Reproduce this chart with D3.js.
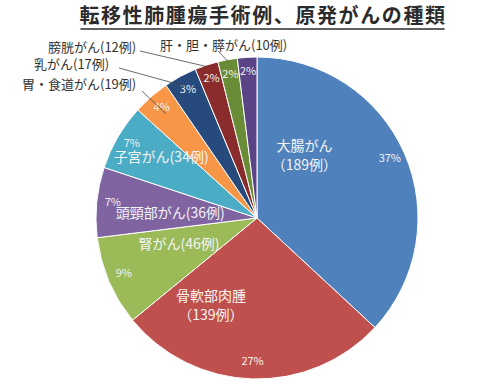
<!DOCTYPE html>
<html>
<head>
<meta charset="utf-8">
<script src="https://cdn.jsdelivr.net/npm/d3@7"></script>
<style>
  body { margin: 0; background: #fff; }
  text { font-family: "Noto Sans CJK JP", "Noto Sans", sans-serif; }
</style>
</head>
<body>
<div id="chart"></div>
<script>
// data
var categories = ["大腸がん", "骨軟部肉腫", "腎がん", "頭頸部がん", "子宮がん",
    "胃・食道がん", "乳がん", "膀胱がん", "肝・胆・膵がん", "その他"];
var cases = [189, 139, 46, 36, 34, 19, 17, 12, 10, 10];
var colors = ["#4f81bd", "#c0504d", "#9bbb59", "#8064a2", "#4bacc6",
    "#f79646", "#264a7c", "#8a2c2b", "#6a8c37", "#5b4486"];
var title = "転移性肺腫瘍手術例、原発がんの種類";

// set the dimensions
var width = 480, height = 389;
var cx = 257, cy = 218, radius = 161;

var svg = d3.select("#chart").append("svg")
    .attr("width", width)
    .attr("height", height);

// title with underline
var t = svg.append("text")
    .attr("x", 263)
    .attr("y", 23)
    .attr("text-anchor", "middle")
    .style("font-size", "20px")
    .style("font-weight", "700")
    .style("letter-spacing", "1.6px")
    .style("fill", "#2b2b2b")
    .text(title);
var bb = t.node().getBBox();
svg.append("line")
    .attr("x1", bb.x + 1).attr("x2", bb.x + bb.width - 2)
    .attr("y1", 29).attr("y2", 29)
    .style("stroke", "#2b2b2b")
    .style("stroke-width", 1.5);

var total = d3.sum(cases);
var pie = d3.pie().sort(null).value(function(d) { return d; });
var arcs = pie(cases);
var arc = d3.arc().innerRadius(0).outerRadius(radius);

var g = svg.append("g")
    .attr("transform", "translate(" + cx + "," + cy + ")");

g.selectAll("path")
    .data(arcs)
    .enter().append("path")
    .attr("d", arc)
    .attr("fill", function(d, i) { return colors[i]; })
    .style("stroke", "#fff")
    .style("stroke-width", 1);

// polar helper: angle in radians clockwise from 12 o'clock
function polar(a, r) {
    return [Math.sin(a) * r, -Math.cos(a) * r];
}
function mid(d) { return (d.startAngle + d.endAngle) / 2; }

// percent labels
g.selectAll(".pct")
    .data(arcs)
    .enter().append("text")
    .attr("class", "pct")
    .attr("transform", function(d) {
        var p = polar(mid(d), radius * 0.9);
        return "translate(" + p[0] + "," + (p[1] + 2) + ")";
    })
    .attr("text-anchor", "middle")
    .style("font-size", "11px")
    .style("fill", "#f2f2f2")
    .text(function(d) { return Math.round(d.value / total * 100) + "%"; });

// category labels inside the slices: [angle deg, radius fraction, two lines?]
var inside = [
    [37, 0.49, true],
    [208, 0.61, true],
    [252, 0.51, false],
    [274, 0.54, false],
    [303, 0.71, false]
];
inside.forEach(function(s, i) {
    var p = polar(s[0] * Math.PI / 180, radius * s[1]);
    var txt = g.append("text")
        .attr("text-anchor", "middle")
        .style("font-size", "14px")
        .style("fill", "#f4f4f4");
    if (s[2]) {
        txt.append("tspan").attr("x", p[0]).attr("y", p[1] - 4).text(categories[i]);
        txt.append("tspan").attr("x", p[0]).attr("y", p[1] + 15)
            .text("（" + cases[i] + "例）");
    } else {
        txt.attr("x", p[0]).attr("y", p[1] + 6)
            .text(categories[i] + "(" + cases[i] + "例)");
    }
});

// outside labels with leader lines: [index, text x, text y, line start x, line start y, end radius]
var outside = [
    [5, 22, 89, 142, 91, 0.86],
    [6, 34, 69, 119, 68, 0.93],
    [7, 48, 52, 140, 51, 0.99],
    [8, 160, 50, 218, 51, 0.99]
];
outside.forEach(function(s) {
    var d = arcs[s[0]];
    var p = polar(mid(d), radius * s[5]);
    svg.append("line")
        .attr("x1", s[3]).attr("y1", s[4])
        .attr("x2", cx + p[0]).attr("y2", cy + p[1])
        .style("stroke", "#444")
        .style("stroke-width", 0.8);
    svg.append("text")
        .attr("x", s[1]).attr("y", s[2])
        .style("font-size", "13px")
        .style("fill", "#333")
        .text(categories[s[0]] + "(" + cases[s[0]] + "例)");
});
</script>
</body>
</html>
